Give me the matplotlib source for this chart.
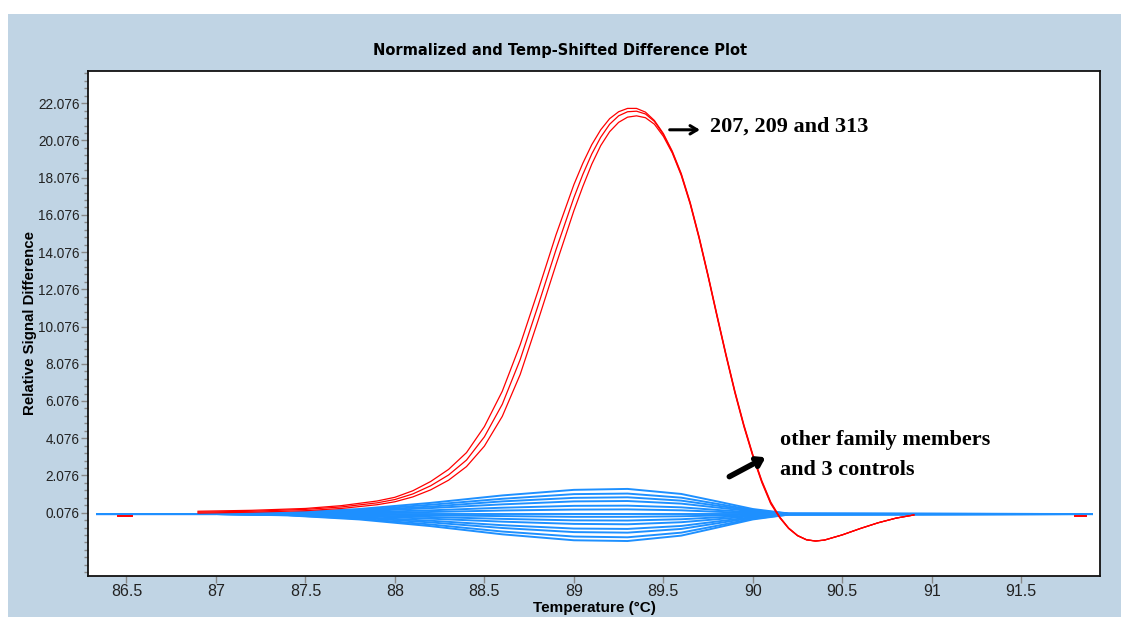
import matplotlib
matplotlib.use("Agg")
import matplotlib.pyplot as plt
from matplotlib.patches import Rectangle
from matplotlib.ticker import FixedLocator

# ---------------- data ----------------
title = "Normalized and Temp-Shifted Difference Plot"
x_label = "Temperature (°C)"
y_label = "Relative Signal Difference"

x_ticks = [86.5, 87.0, 87.5, 88.0, 88.5, 89.0, 89.5, 90.0, 90.5, 91.0, 91.5]
x_tick_labels = ["86.5", "87", "87.5", "88", "88.5", "89", "89.5", "90", "90.5", "91", "91.5"]
y_ticks = [0.076, 2.076, 4.076, 6.076, 8.076, 10.076, 12.076, 14.076, 16.076, 18.076, 20.076, 22.076]
y_tick_labels = ["0.076", "2.076", "4.076", "6.076", "8.076", "10.076", "12.076",
                 "14.076", "16.076", "18.076", "20.076", "22.076"]

# red curves (samples 207, 209, 313)
red_temp = [86.9, 87.2, 87.5, 87.7, 87.9, 88.0, 88.1, 88.2, 88.3, 88.4, 88.5, 88.6,
            88.7, 88.8, 88.9, 89.0, 89.05, 89.1, 89.15, 89.2, 89.25, 89.3, 89.35,
            89.4, 89.45, 89.5, 89.55, 89.6, 89.65, 89.7, 89.75, 89.8, 89.85, 89.9,
            89.95, 90.0, 90.05, 90.1, 90.15, 90.2, 90.25, 90.3, 90.35, 90.4, 90.5,
            90.6, 90.7, 90.8, 90.9]
red_207 = [0.15, 0.2, 0.3, 0.45, 0.7, 0.9, 1.25, 1.75, 2.4, 3.3, 4.7, 6.6,
           9.1, 12.0, 15.0, 17.7, 18.85, 19.85, 20.65, 21.25, 21.62, 21.8, 21.8,
           21.6, 21.15, 20.45, 19.5, 18.3, 16.75, 14.9, 12.85, 10.7, 8.6, 6.6,
           4.8, 3.2, 1.8, 0.65, -0.15, -0.75, -1.15, -1.38, -1.45, -1.4, -1.12,
           -0.78, -0.47, -0.22, -0.05]
red_209 = [0.1, 0.15, 0.25, 0.38, 0.6, 0.78, 1.08, 1.52, 2.1, 2.9, 4.15, 5.9,
           8.3, 11.2, 14.2, 17.0, 18.25, 19.35, 20.25, 20.95, 21.4, 21.62, 21.65,
           21.5, 21.1, 20.4, 19.45, 18.25, 16.7, 14.85, 12.8, 10.65, 8.55, 6.55,
           4.75, 3.15, 1.75, 0.6, -0.17, -0.76, -1.16, -1.38, -1.45, -1.4, -1.12,
           -0.78, -0.47, -0.22, -0.05]
red_313 = [0.05, 0.1, 0.18, 0.3, 0.5, 0.66, 0.92, 1.3, 1.82, 2.55, 3.65, 5.25,
           7.5, 10.4, 13.4, 16.3, 17.6, 18.8, 19.8, 20.55, 21.05, 21.33, 21.4,
           21.3, 20.95, 20.3, 19.4, 18.2, 16.65, 14.8, 12.75, 10.6, 8.5, 6.5,
           4.7, 3.1, 1.7, 0.55, -0.2, -0.78, -1.17, -1.39, -1.45, -1.4, -1.12,
           -0.78, -0.47, -0.22, -0.05]
red_stub_left_temp = [86.45, 86.53]
red_stub_left = [-0.08, -0.08]
red_stub_right_temp = [91.8, 91.86]
red_stub_right = [-0.08, -0.08]

# blue curves (other family members and 3 controls)
blue_temp = [86.33, 87.0, 87.4, 87.8, 88.2, 88.6, 89.0, 89.3, 89.6, 89.8, 90.0, 90.2, 91.9]
blue_curves = [
    [0, 0, 0.07, 0.27, 0.60, 1.00, 1.30, 1.35, 1.08, 0.68, 0.27, 0.03, 0],
    [0, 0, 0.05, 0.22, 0.50, 0.82, 1.07, 1.10, 0.88, 0.55, 0.22, 0.02, 0],
    [0, 0, 0.05, 0.18, 0.40, 0.68, 0.87, 0.90, 0.72, 0.45, 0.18, 0.02, 0],
    [0, 0, 0.03, 0.14, 0.32, 0.52, 0.68, 0.70, 0.56, 0.35, 0.14, 0.01, 0],
    [0, 0, 0.02, 0.09, 0.20, 0.34, 0.44, 0.45, 0.36, 0.22, 0.09, 0.01, 0],
    [0, 0, 0.01, 0.05, 0.11, 0.19, 0.24, 0.25, 0.20, 0.12, 0.05, 0.00, 0],
    [0, 0, 0.00, 0.00, 0.00, 0.00, 0.00, 0.00, 0.00, 0.00, 0.00, 0.00, 0],
    [0, 0, -0.01, -0.03, -0.07, -0.11, -0.15, -0.15, -0.12, -0.08, -0.03, 0.00, 0],
    [0, 0, -0.02, -0.07, -0.16, -0.26, -0.34, -0.35, -0.28, -0.18, -0.07, -0.01, 0],
    [0, 0, -0.03, -0.11, -0.25, -0.41, -0.53, -0.55, -0.44, -0.28, -0.11, -0.01, 0],
    [0, 0, -0.04, -0.16, -0.36, -0.60, -0.78, -0.80, -0.64, -0.40, -0.16, -0.02, 0],
    [0, 0, -0.05, -0.20, -0.45, -0.75, -0.97, -1.00, -0.80, -0.50, -0.20, -0.02, 0],
    [0, 0, -0.06, -0.25, -0.56, -0.94, -1.21, -1.25, -1.00, -0.63, -0.25, -0.03, 0],
    [0, 0, -0.07, -0.29, -0.65, -1.09, -1.41, -1.45, -1.16, -0.73, -0.29, -0.03, 0],
]

annot_top = "207, 209 and 313"
annot_bottom_1 = "other family members"
annot_bottom_2 = "and 3 controls"

# ---------------- style ----------------
panel_color = "#C0D4E4"
red = "#FF0000"
blue = "#1E90FF"
narrow = ["Liberation Sans Narrow", "Liberation Sans", "DejaVu Sans"]
sans = ["Liberation Sans", "DejaVu Sans"]
serif = ["Liberation Serif", "DejaVu Serif"]

W, H = 1121, 617
fig = plt.figure(figsize=(W / 100, H / 100), dpi=100, facecolor="white")
fig.patches.append(Rectangle((8 / W, 0), 1 - 8 / W, 1 - 14 / H, transform=fig.transFigure,
                             facecolor=panel_color, edgecolor="none", zorder=-10))

ax = fig.add_axes([88 / W, 1 - 576 / H, (1100 - 88) / W, (576 - 71) / H])
ax.set_zorder(5)
ax.set_facecolor("white")
ax.set_xlim(86.285, 91.94)
ax.set_ylim(-3.33, 23.81)

for curve in blue_curves:
    ax.plot(blue_temp, curve, color=blue, lw=1.4, zorder=2, solid_capstyle="butt")
for curve in (red_313, red_209, red_207):
    ax.plot(red_temp, curve, color=red, lw=0.9, zorder=3)
ax.plot(red_stub_left_temp, red_stub_left, color=red, lw=1.4, zorder=3)
ax.plot(red_stub_right_temp, red_stub_right, color=red, lw=1.4, zorder=3)

# ticks
ax.set_xticks(x_ticks)
ax.set_xticklabels(x_tick_labels, fontfamily=narrow, fontsize=11.5, color="#222222")
ax.set_yticks(y_ticks)
ax.set_yticklabels(y_tick_labels, fontfamily=sans, fontsize=9.8, color="#222222")
minor = [y_ticks[0] - 0.4 * k for k in range(1, 9)] + \
        [y_ticks[0] + 0.4 * k for k in range(1, 60) if k % 5 != 0]
ax.yaxis.set_minor_locator(FixedLocator(minor))
ax.tick_params(axis="both", which="major", direction="out", length=5, width=1, color="#888888")
ax.tick_params(axis="y", which="minor", direction="out", length=3, width=1, color="#888888")
ax.tick_params(axis="x", pad=1)
ax.tick_params(axis="y", pad=1)
for s in ax.spines.values():
    s.set_linewidth(1.3)
    s.set_color("#111111")

# labels
fig.text(560 / W, 1 - 51 / H, title, ha="center", va="center", fontsize=10.5,
         fontweight="bold", fontfamily=["DejaVu Sans"])
fig.text(594 / W, 1 - 608 / H, x_label, ha="center", va="center", fontsize=11,
         fontweight="bold", fontfamily=narrow)
fig.text(30 / W, 1 - 323 / H, y_label, ha="center", va="center", rotation=90,
         fontsize=10.8, fontweight="bold", fontfamily=sans)

# annotations
ax.annotate("", xy=(89.72, 20.65), xytext=(89.52, 20.65),
            arrowprops=dict(arrowstyle="->,head_length=0.5,head_width=0.3", lw=2.2, color="black"))
ax.text(89.76, 20.81, annot_top, ha="left", va="center", fontsize=16, fontweight="bold",
        fontfamily=serif)
ax.annotate("", xy=(90.085, 3.12), xytext=(89.855, 1.94),
            arrowprops=dict(arrowstyle="->,head_length=0.45,head_width=0.3", lw=4, color="black"))
ax.text(90.15, 3.98, annot_bottom_1, ha="left", va="center", fontsize=16, fontweight="bold",
        fontfamily=serif)
ax.text(90.15, 2.37, annot_bottom_2, ha="left", va="center", fontsize=16, fontweight="bold",
        fontfamily=serif)

fig.savefig("out.png", dpi=100, facecolor="white")
